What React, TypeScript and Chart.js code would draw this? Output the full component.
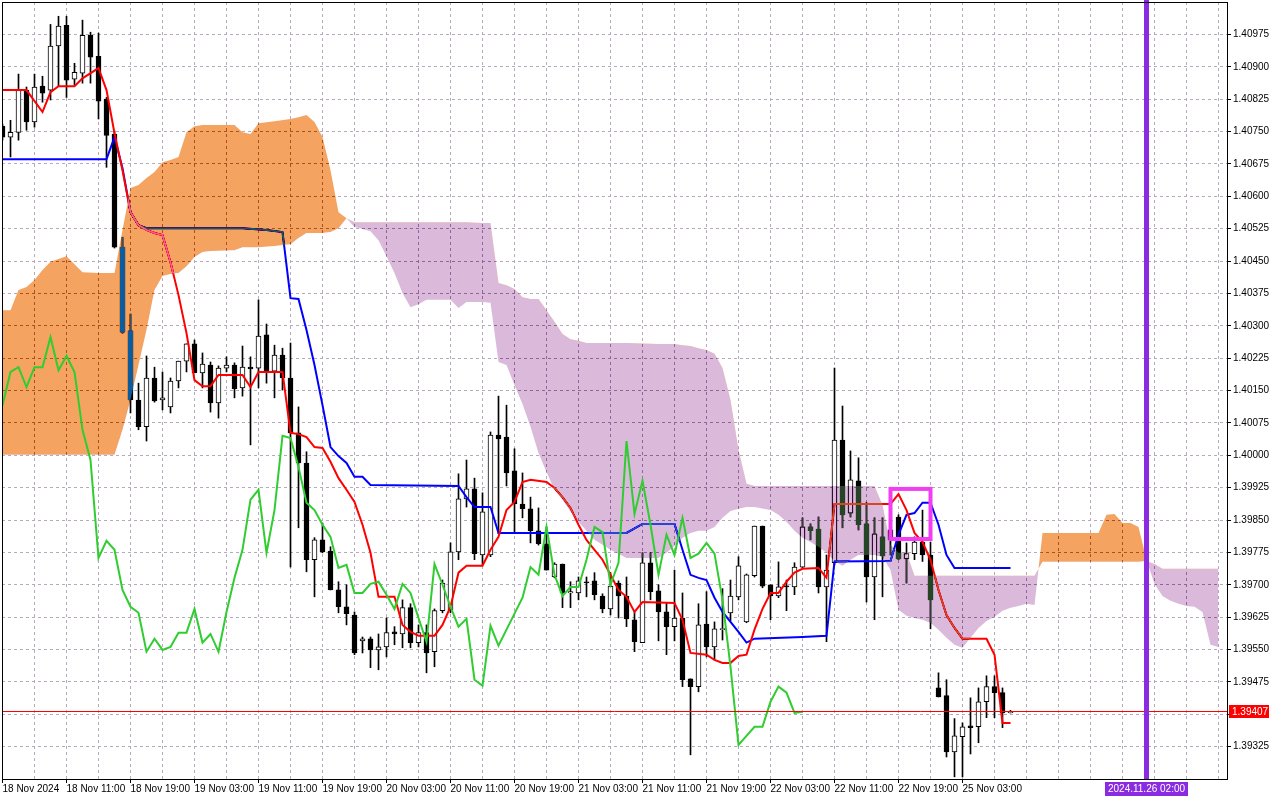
import React, { useEffect, useRef } from "react";
import { Chart, registerables } from "chart.js";

// ---------- DATA (hourly bars, bar 0 = 18 Nov 2024 03:00) ----------
const opens = [
  1.40762, 1.40737, 1.40748, 1.40846, 1.40772, 1.40855, 1.40846, 1.40948, 1.40996, 1.40871,
  1.40885, 1.40973, 1.40924, 1.40825, 1.40744, 1.40482, 1.40288, 1.40128, 1.40066, 1.40179,
  1.40128, 1.40112, 1.40172, 1.40218, 1.40258, 1.40191, 1.40209, 1.40121, 1.40202, 1.40209,
  1.40156, 1.40204, 1.40202, 1.40279, 1.40195, 1.40232, 1.40179, 1.40052, 1.39982, 1.39758,
  1.39804, 1.39778, 1.39688, 1.39649, 1.3963, 1.3957, 1.39575, 1.39549, 1.39556, 1.39591,
  1.39586, 1.39647, 1.39566, 1.39589, 1.39545, 1.3964, 1.39642, 1.39776, 1.39899, 1.39922,
  1.39769, 1.39769, 1.40047, 1.40042, 1.39964, 1.39887, 1.39876, 1.39825, 1.39795, 1.39718,
  1.39748, 1.39681, 1.39681, 1.39707, 1.39709, 1.39674, 1.39644, 1.39704, 1.39674, 1.39619,
  1.39566, 1.39751, 1.39686, 1.39637, 1.39603, 1.39623, 1.39482, 1.39464, 1.39609, 1.39556,
  1.39596, 1.39635, 1.39672, 1.39614, 1.39721, 1.39836, 1.397, 1.39674, 1.39697, 1.39695,
  1.39741, 1.39834, 1.39829, 1.39695, 1.39751, 1.40035, 1.39866, 1.39941, 1.39841, 1.39718,
  1.39811, 1.39827, 1.39857, 1.3976, 1.39772, 1.39799, 1.39769, 1.39461, 1.39443, 1.39313,
  1.39348, 1.39373, 1.39371, 1.39429, 1.39464, 1.3945, 1.39403,
];
const highs = [
  1.40767, 1.40776, 1.40883, 1.40853, 1.40883, 1.40878, 1.40998, 1.41017, 1.41017, 1.40908,
  1.41008, 1.4098, 1.40978, 1.40829, 1.40751, 1.40505, 1.40327, 1.40167, 1.4023, 1.40204,
  1.40193, 1.40179, 1.40218, 1.40258, 1.40267, 1.40237, 1.40216, 1.40207, 1.40228, 1.40214,
  1.40253, 1.40228, 1.4036, 1.40304, 1.40255, 1.40248, 1.4026, 1.40112, 1.40008, 1.39809,
  1.39843, 1.39788, 1.39707, 1.397, 1.39637, 1.39579, 1.39579, 1.39586, 1.39623, 1.39603,
  1.39665, 1.39656, 1.39607, 1.39607, 1.39644, 1.39711, 1.39797, 1.39957, 1.39989, 1.39947,
  1.39913, 1.40054, 1.40137, 1.40116, 1.40015, 1.39959, 1.39903, 1.39878, 1.39834, 1.39751,
  1.39748, 1.39707, 1.39718, 1.39718, 1.39728, 1.39679, 1.39728, 1.39709, 1.39718, 1.39637,
  1.39774, 1.39774, 1.397, 1.39658, 1.39734, 1.39681, 1.39482, 1.39656, 1.39684, 1.39614,
  1.39691, 1.39711, 1.39765, 1.39725, 1.39836, 1.39836, 1.397, 1.39753, 1.39711, 1.39751,
  1.39855, 1.39841, 1.39857, 1.39769, 1.40202, 1.40114, 1.4001, 1.39994, 1.3989, 1.39855,
  1.39855, 1.39862, 1.39862, 1.39797, 1.39811, 1.39873, 1.39799, 1.39496, 1.3948, 1.3939,
  1.3938, 1.39438, 1.39461, 1.39489, 1.39489, 1.39461, 1.39409,
];
const lows = [
  1.4073, 1.40691, 1.4073, 1.40753, 1.4076, 1.40818, 1.40823, 1.40855, 1.40829, 1.40857,
  1.40862, 1.40862, 1.40779, 1.40667, 1.4048, 1.40283, 1.40098, 1.40059, 1.40033, 1.40123,
  1.40105, 1.40098, 1.40156, 1.40193, 1.40191, 1.40156, 1.401, 1.40086, 1.40193, 1.40133,
  1.40137, 1.40024, 1.40156, 1.40167, 1.40133, 1.40151, 1.39741, 1.39832, 1.3973, 1.39672,
  1.39774, 1.39688, 1.39635, 1.39607, 1.39538, 1.39542, 1.39508, 1.39503, 1.39533, 1.39561,
  1.39554, 1.39554, 1.39556, 1.39496, 1.3951, 1.39635, 1.39635, 1.39758, 1.3988, 1.39758,
  1.39746, 1.39765, 1.39818, 1.39929, 1.39822, 1.39855, 1.39797, 1.39792, 1.39734, 1.39716,
  1.39647, 1.39647, 1.39665, 1.39672, 1.39665, 1.39635, 1.3963, 1.39623, 1.39603, 1.39545,
  1.39566, 1.39665, 1.3957, 1.39538, 1.3957, 1.39464, 1.39306, 1.39452, 1.39533, 1.39526,
  1.39572, 1.39616, 1.39665, 1.39612, 1.39718, 1.39693, 1.39619, 1.3967, 1.3964, 1.39677,
  1.39739, 1.39804, 1.39681, 1.39568, 1.39746, 1.39832, 1.39857, 1.39827, 1.3966, 1.39619,
  1.39672, 1.39769, 1.39758, 1.39704, 1.39758, 1.39754, 1.39598, 1.3944, 1.39301, 1.39255,
  1.39255, 1.39308, 1.39334, 1.39392, 1.39392, 1.39369, 1.39403,
];
const closes = [
  1.40737, 1.40748, 1.40846, 1.40772, 1.40853, 1.40839, 1.40948, 1.40994, 1.40869, 1.40887,
  1.40973, 1.40922, 1.4082, 1.40741, 1.40482, 1.40285, 1.40128, 1.40066, 1.40179, 1.40126,
  1.40133, 1.40172, 1.40218, 1.40258, 1.40191, 1.40211, 1.40121, 1.40202, 1.40209, 1.40154,
  1.40204, 1.402, 1.40276, 1.40195, 1.40232, 1.40179, 1.40052, 1.39982, 1.39758, 1.39804,
  1.39776, 1.39688, 1.39649, 1.39633, 1.39542, 1.39575, 1.39549, 1.39556, 1.39589, 1.39586,
  1.39647, 1.39566, 1.39589, 1.39542, 1.3964, 1.39704, 1.39776, 1.39899, 1.39922, 1.39772,
  1.39869, 1.40047, 1.40038, 1.39959, 1.39887, 1.39876, 1.39825, 1.39795, 1.39734, 1.39748,
  1.39681, 1.39684, 1.39709, 1.39704, 1.39677, 1.39644, 1.39697, 1.39674, 1.39621, 1.39568,
  1.39751, 1.39684, 1.39637, 1.39603, 1.39623, 1.3948, 1.39464, 1.39607, 1.39556, 1.39598,
  1.39598, 1.39674, 1.39744, 1.39723, 1.39836, 1.39697, 1.39674, 1.39695, 1.39695, 1.39741,
  1.39834, 1.39825, 1.39695, 1.39734, 1.40035, 1.39862, 1.39943, 1.39839, 1.39718, 1.39818,
  1.39767, 1.39804, 1.3976, 1.39772, 1.39799, 1.39769, 1.39665, 1.3944, 1.39313, 1.3935,
  1.39371, 1.39369, 1.39429, 1.39464, 1.3945, 1.39403, 1.39407,
];

// Tenkan-sen (red)
const tenkanBars = [
  0, 3, 5, 6, 7, 9, 10, 12, 13, 14, 15, 16, 17, 18, 19, 20, 21, 22, 23, 24,
  25, 26, 27, 30, 31, 32, 35, 36, 37, 38, 39, 40, 41, 42, 43, 44, 45, 46, 47, 49,
  50, 51, 52, 54, 55, 56, 57, 58, 60, 61, 62, 63, 64, 65, 66, 68, 69, 70, 71, 72,
  73, 74, 75, 76, 77, 78, 79, 80, 84, 85, 86, 88, 89, 90, 91, 92, 93, 94, 95, 96,
  97, 98, 99, 100, 102, 103, 104, 111, 112, 113, 114, 115, 116, 117, 118, 119, 120, 123, 124, 125,
  126,
];
const tenkanValues = [
  1.40846, 1.40846, 1.40795, 1.40841, 1.40855, 1.40855, 1.40873, 1.40897, 1.40846, 1.40746,
  1.4066, 1.40563, 1.40533, 1.40522, 1.40515, 1.4051, 1.40447, 1.40371, 1.40283, 1.40174,
  1.4016, 1.4016, 1.40186, 1.40186, 1.40158, 1.40193, 1.40193, 1.40052, 1.40049, 1.40042,
  1.40019, 1.40017, 1.39985, 1.39947, 1.3992, 1.39892, 1.39839, 1.39774, 1.39672, 1.39672,
  1.39607, 1.39591, 1.39582, 1.39582, 1.39607, 1.39649, 1.39728, 1.39744, 1.39744, 1.39781,
  1.39811, 1.39873, 1.39892, 1.39938, 1.39943, 1.39938, 1.39924, 1.39903, 1.39878, 1.39839,
  1.39804, 1.39781, 1.39758, 1.39723, 1.39688, 1.39672, 1.39637, 1.3966, 1.39658, 1.39619,
  1.39542, 1.39538, 1.39526, 1.39519, 1.39519, 1.39535, 1.39538, 1.39596, 1.39644, 1.39681,
  1.39681, 1.39707, 1.39728, 1.39737, 1.39739, 1.39716, 1.39887, 1.39887, 1.3991, 1.39873,
  1.3982, 1.39799, 1.39758, 1.39688, 1.3963, 1.396, 1.39575, 1.39575, 1.39538, 1.3938,
  1.3938,
];

// Kijun-sen (blue)
const kijunBars = [
  0, 13, 14, 15, 16, 17, 18, 30, 33, 35, 36, 37, 38, 39, 40, 41, 42, 43, 44, 45,
  46, 57, 58, 59, 61, 62, 78, 80, 84, 85, 86, 87, 88, 89, 90, 91, 92, 93, 94, 100,
  103, 104, 111, 112, 113, 114, 115, 116, 117, 118, 119, 126,
];
const kijunValues = [
  1.40686, 1.40686, 1.40737, 1.40665, 1.40563, 1.40533, 1.40526, 1.40526, 1.40522, 1.40517,
  1.40364, 1.40362, 1.4029, 1.40209, 1.40116, 1.40019, 1.39998, 1.39982, 1.3995, 1.3995,
  1.39931, 1.39929, 1.39903, 1.3988, 1.3988, 1.3982, 1.3982, 1.39841, 1.39841, 1.39781,
  1.39723, 1.39716, 1.39711, 1.3967, 1.39637, 1.39614, 1.39591, 1.39566, 1.39575, 1.39579,
  1.39582, 1.39754, 1.39755, 1.39816, 1.39862, 1.39866, 1.3989, 1.3989, 1.39839, 1.39769,
  1.39739, 1.39739,
];

// Chikou span (green), bars 0..100
const chikouValues = [
  1.40116, 1.40193, 1.40204, 1.40158, 1.40204, 1.40204, 1.40274, 1.40197, 1.4023, 1.40193,
  1.40059, 1.39989, 1.39762, 1.39802, 1.39781, 1.39688, 1.39649, 1.39635, 1.39545, 1.39575,
  1.39549, 1.39556, 1.39589, 1.39589, 1.39644, 1.39566, 1.39586, 1.39545, 1.39637, 1.39716,
  1.39781, 1.39897, 1.3992, 1.39774, 1.39873, 1.40045, 1.4004, 1.39973, 1.3989, 1.39873,
  1.39839, 1.39811, 1.39739, 1.39746, 1.39681, 1.39681, 1.39702, 1.39707, 1.39677, 1.39644,
  1.39702, 1.39681, 1.39623, 1.39568, 1.39748, 1.397, 1.39649, 1.39603, 1.39621, 1.3948,
  1.39466, 1.39605, 1.39559, 1.39596, 1.39633, 1.3967, 1.39741, 1.39723, 1.39834, 1.39723,
  1.39674, 1.39695, 1.39695, 1.39758, 1.39834, 1.39822, 1.397, 1.39751, 1.40033, 1.39864,
  1.39941, 1.39839, 1.39723, 1.39816, 1.39769, 1.39855, 1.39762, 1.39772, 1.39797, 1.39772,
  1.39665, 1.3951, 1.39329, 1.3935, 1.39371, 1.39371, 1.39429, 1.39464, 1.3945, 1.39403,
  1.39406,
];

// Kumo (cloud): Senkou Span A and B at the same bars
const cloudBars = [
  0, 1, 2, 3, 4, 5, 6, 8, 10, 12,
  14, 15, 16, 17, 18, 19, 20, 21, 22, 23,
  24, 25, 26, 29, 30, 31, 32, 34, 36, 37,
  38, 39, 40, 41, 42, 43, 44, 45, 46, 47,
  48, 49, 50, 51, 52, 53, 56, 57, 58, 60,
  61, 62, 63, 64, 65, 66, 67, 68, 69, 70,
  71, 72, 73, 74, 76, 78, 82, 83, 84, 85,
  86, 87, 88, 89, 90, 91, 92, 93, 94, 96,
  97, 98, 99, 100, 101, 102, 103, 104, 105, 106,
  107, 109, 110, 111, 112, 113, 114, 115, 116, 117,
  118, 119, 120, 121, 122, 123, 124, 125, 126, 127,
  128, 129, 130, 137, 138, 139, 140, 141, 142, 143,
  144, 145, 146, 147, 148, 149, 150, 151, 152,
];
const spanA = [
  1.40336, 1.40336, 1.40383, 1.4039, 1.40406, 1.40429, 1.40448, 1.40461, 1.40424, 1.40422,
  1.40422, 1.40522, 1.40619, 1.40626, 1.40642, 1.40656, 1.40679, 1.40684, 1.40691, 1.40748,
  1.40762, 1.40765, 1.40765, 1.40765, 1.40748, 1.40744, 1.40769, 1.40774, 1.40779, 1.40783,
  1.40788, 1.40772, 1.40737, 1.4066, 1.40563, 1.40549, 1.40529, 1.40524, 1.40519, 1.40498,
  1.40461, 1.40422, 1.40376, 1.40343, 1.4035, 1.4036, 1.4036, 1.40341, 1.40355, 1.40355,
  1.40353, 1.40216, 1.40209, 1.40163, 1.40119, 1.40066, 1.40005, 1.39961, 1.3992, 1.39897,
  1.39869, 1.39846, 1.39825, 1.39804, 1.39781, 1.39762, 1.39762, 1.39774, 1.3979, 1.39809,
  1.3982, 1.39825, 1.39825, 1.39834, 1.39855, 1.39871, 1.39876, 1.3988, 1.3988, 1.39873,
  1.39862, 1.39846, 1.39825, 1.39809, 1.39799, 1.39788, 1.39774, 1.39755, 1.39744, 1.39758,
  1.39769, 1.39769, 1.39765, 1.39734, 1.39642, 1.39628, 1.39623, 1.39619, 1.39612, 1.39596,
  1.39577, 1.39561, 1.39554, 1.39577, 1.396, 1.39616, 1.39626, 1.3964, 1.39647, 1.39651,
  1.39656, 1.39653, 1.3982, 1.3982, 1.39862, 1.39864, 1.39843, 1.39843, 1.39834, 1.39758,
  1.39702, 1.39674, 1.39663, 1.39656, 1.39651, 1.39649, 1.39637, 1.39561, 1.39556,
];
const spanB = [
  1.40001, 1.40001, 1.40001, 1.40001, 1.40001, 1.40001, 1.40001, 1.40001, 1.40001, 1.40001,
  1.40001, 1.40059, 1.40128, 1.40209, 1.4029, 1.40383, 1.40415, 1.4042, 1.40422, 1.40438,
  1.40459, 1.40471, 1.40473, 1.40475, 1.40482, 1.40482, 1.40482, 1.40485, 1.40489, 1.40503,
  1.40515, 1.40515, 1.40515, 1.40517, 1.40526, 1.40549, 1.4054, 1.4054, 1.4054, 1.4054,
  1.4054, 1.4054, 1.4054, 1.4054, 1.4054, 1.4054, 1.4054, 1.4054, 1.4054, 1.40538,
  1.40538, 1.40399, 1.40394, 1.40385, 1.40366, 1.40362, 1.40362, 1.40336, 1.40309, 1.40281,
  1.40269, 1.40265, 1.4026, 1.4026, 1.4026, 1.4026, 1.40258, 1.40258, 1.40258, 1.40255,
  1.40253, 1.40248, 1.40244, 1.40235, 1.40202, 1.40128, 1.40012, 1.39934, 1.39929, 1.39929,
  1.39929, 1.39929, 1.39929, 1.39929, 1.39929, 1.39929, 1.39929, 1.39929, 1.39929, 1.39929,
  1.39929, 1.39929, 1.39885, 1.39792, 1.39774, 1.39774, 1.39721, 1.39721, 1.39721, 1.39721,
  1.39721, 1.39721, 1.39721, 1.39721, 1.39721, 1.39721, 1.39721, 1.39721, 1.39721, 1.39721,
  1.39721, 1.39721, 1.39753, 1.39753, 1.39753, 1.39753, 1.39753, 1.39753, 1.39753, 1.39755,
  1.39748, 1.39737, 1.39737, 1.39737, 1.39737, 1.39737, 1.39737, 1.39737, 1.39737,
];

// Axis labels
const timeLabels = [
  "18 Nov 2024", "18 Nov 11:00", "18 Nov 19:00", "19 Nov 03:00", "19 Nov 11:00", "19 Nov 19:00",
  "20 Nov 03:00", "20 Nov 11:00", "20 Nov 19:00", "21 Nov 03:00", "21 Nov 11:00", "21 Nov 19:00",
  "22 Nov 03:00", "22 Nov 11:00", "22 Nov 19:00", "25 Nov 03:00",
];
const priceTicks = [
  1.39325, 1.394, 1.39475, 1.3955, 1.39625, 1.397, 1.39775, 1.3985, 1.39925, 1.4,
  1.40075, 1.4015, 1.40225, 1.403, 1.40375, 1.4045, 1.40525, 1.406, 1.40675, 1.4075,
  1.40825, 1.409, 1.40975,
];
const lastPrice = 1.39407;
const markerBar = 143;
const markerLabel = "2024.11.26 02:00";
const boxBars = [111, 116];
const boxPrices = [1.39922, 1.39806];

// ---------- rendering ----------
const FONT = "'Liberation Sans', Arial, sans-serif";
const GRID = "rgb(184,170,190)";
const LABEL_STEP = 8;
const GRID_STEP = 4;

// Cloud is blended like MT4 (difference with inverted colour)
const cloudBlend: any = {
  id: "cloudBlend",
  beforeDraw(chart: any) {
    const c = chart.ctx;
    c.save();
    c.fillStyle = "#ffffff";
    c.fillRect(0, 0, chart.width, chart.height);
    c.restore();
  },
  beforeDatasetDraw(chart: any, args: any) {
    const ds: any = chart.data.datasets[args.index];
    if (ds && ds.blend) {
      chart.ctx.save();
      chart.ctx.globalCompositeOperation = "difference";
    }
  },
  afterDatasetDraw(chart: any, args: any) {
    const ds: any = chart.data.datasets[args.index];
    if (ds && ds.blend) chart.ctx.restore();
  },
};
Chart.register(cloudBlend);
Chart.register(...registerables);

const overlay: any = {
  id: "overlay",
  afterDraw(chart: any) {
    const { ctx, chartArea: a, scales } = chart;
    const xs = scales.x;
    const ys = scales.y;
    ctx.save();
    // bid line
    const py = Math.round(ys.getPixelForValue(lastPrice)) + 0.5;
    ctx.strokeStyle = "#ff0000";
    ctx.lineWidth = 1;
    ctx.beginPath();
    ctx.moveTo(a.left, py);
    ctx.lineTo(a.right, py);
    ctx.stroke();
    // rectangle object
    const bx1 = xs.getPixelForValue(boxBars[0]);
    const bx2 = xs.getPixelForValue(boxBars[1]);
    const by1 = ys.getPixelForValue(boxPrices[0]);
    const by2 = ys.getPixelForValue(boxPrices[1]);
    ctx.strokeStyle = "#f23ef2";
    ctx.lineWidth = 4;
    ctx.strokeRect(bx1, by1, bx2 - bx1, by2 - by1);
    // vertical marker line
    const mx = xs.getPixelForValue(markerBar);
    ctx.fillStyle = "#8a2be2";
    ctx.fillRect(mx - 2.5, 0, 5, a.bottom);
    // frame
    ctx.strokeStyle = "#000";
    ctx.lineWidth = 1;
    ctx.strokeRect(a.left + 0.5, a.top + 0.5, a.right - a.left, a.bottom - a.top);
    // price label
    ctx.font = `10px ${FONT}`;
    ctx.textBaseline = "middle";
    ctx.textAlign = "left";
    const pt = lastPrice.toFixed(5);
    ctx.fillStyle = "#ff0000";
    ctx.fillRect(a.right + 2, py - 6.5, 40, 13);
    ctx.fillStyle = "#ffffff";
    ctx.fillText(pt, a.right + 5, py + 0.5);
    // date label
    const tw = ctx.measureText(markerLabel).width;
    ctx.fillStyle = "#8a2be2";
    ctx.fillRect(Math.round(mx - tw / 2 - 3), a.bottom + 3, Math.round(tw + 6), 14);
    ctx.fillStyle = "#ffffff";
    ctx.textAlign = "center";
    ctx.fillText(markerLabel, mx, a.bottom + 10.5);
    ctx.restore();
  },
};

export default function App() {
  const ref = useRef<HTMLCanvasElement | null>(null);

  useEffect(() => {
    const canvas = ref.current;
    if (!canvas) return;
    const idx = opens.map((_, i) => i);
    const gridBars: number[] = [];
    for (let b = 0; b <= 152; b += GRID_STEP) gridBars.push(b);

    const chart = new Chart(canvas, {
      type: "bar",
      data: {
        datasets: [
          {
            type: "bar",
            label: "wicks",
            data: idx.map((i) => ({ x: i, y: [lows[i], highs[i]] })),
            backgroundColor: "#000",
            borderWidth: 0,
            barThickness: 1,
            grouped: false,
            borderSkipped: false,
            order: 20,
          } as any,
          {
            type: "bar",
            label: "bodies",
            data: idx.map((i) => ({ x: i, y: [opens[i], closes[i]] })),
            backgroundColor: (c: any) => (closes[c.dataIndex] >= opens[c.dataIndex] ? "#ffffff" : "#000000"),
            borderColor: "#000",
            borderWidth: 1,
            borderSkipped: false,
            barThickness: 5,
            grouped: false,
            minBarLength: 1,
            order: 19,
          } as any,
          {
            type: "line",
            label: "Kijun-sen",
            data: kijunBars.map((b, k) => ({ x: b, y: kijunValues[k] })),
            borderColor: "#0000ff",
            borderWidth: 2,
            pointRadius: 0,
            tension: 0,
            fill: false,
            order: 12,
          } as any,
          {
            type: "line",
            label: "Tenkan-sen",
            data: tenkanBars.map((b, k) => ({ x: b, y: tenkanValues[k] })),
            borderColor: "#ff0000",
            borderWidth: 2,
            pointRadius: 0,
            tension: 0,
            fill: false,
            order: 11,
          } as any,
          {
            type: "line",
            label: "Senkou Span A",
            blend: true,
            data: cloudBars.map((b, k) => ({ x: b, y: spanA[k] })),
            borderColor: "rgba(0,0,0,0)",
            borderWidth: 0,
            pointRadius: 0,
            tension: 0,
            fill: { target: "+1", above: "rgb(11,91,159)", below: "rgb(37,70,37)" },
            order: 3,
          } as any,
          {
            type: "line",
            label: "Senkou Span B",
            data: cloudBars.map((b, k) => ({ x: b, y: spanB[k] })),
            borderColor: "rgba(0,0,0,0)",
            borderWidth: 0,
            pointRadius: 0,
            tension: 0,
            fill: false,
            order: 4,
          } as any,
          {
            type: "line",
            label: "Chikou Span",
            data: chikouValues.map((v, i) => ({ x: i, y: v })),
            borderColor: "#2fcd2f",
            borderWidth: 2,
            pointRadius: 0,
            tension: 0,
            fill: false,
            order: 1,
          } as any,
        ],
      },
      options: {
        responsive: false,
        animation: false,
        events: [],
        layout: { padding: { left: 2, top: 2, right: 0, bottom: 0 } },
        plugins: { legend: { display: false }, tooltip: { enabled: false } },
        scales: {
          x: {
            type: "linear",
            bounds: "data",
            min: -0.0625,
            max: 153.0625,
            offset: false,
            afterBuildTicks: (s: any) => {
              s.ticks = gridBars.map((v) => ({ value: v }));
            },
            afterFit: (s: any) => {
              s.height = 21;
              s.paddingLeft = 0;
              s.paddingRight = 0;
            },
            ticks: {
              autoSkip: false,
              maxRotation: 0,
              minRotation: 0,
              align: "start",
              padding: 0,
              color: "#000",
              font: { family: FONT, size: 10 },
              callback: (v: any) => {
                const n = Number(v);
                if (n % LABEL_STEP !== 0) return "";
                const k = n / LABEL_STEP;
                return k < timeLabels.length ? timeLabels[k] : "";
              },
            },
            grid: {
              offset: false,
              color: GRID,
              lineWidth: 1,
              drawTicks: true,
              tickLength: 4,
              tickWidth: 1,
              tickColor: (c: any) =>
                c.tick && c.tick.value % LABEL_STEP === 0 && c.tick.value / LABEL_STEP < timeLabels.length
                  ? "#000"
                  : "rgba(0,0,0,0)",
            },
            border: { display: true, color: "#000", width: 1, dash: [3, 3] },
          } as any,
          y: {
            type: "linear",
            position: "right",
            bounds: "data",
            min: 1.3925,
            max: 1.4105,
            afterBuildTicks: (s: any) => {
              s.ticks = priceTicks.map((v) => ({ value: v }));
            },
            afterFit: (s: any) => {
              s.width = 53;
              s.paddingTop = 0;
              s.paddingBottom = 0;
            },
            ticks: {
              padding: 2,
              color: "#000",
              font: { family: FONT, size: 10 },
              callback: (v: any) => Number(v).toFixed(5),
            },
            grid: { color: GRID, lineWidth: 1, drawTicks: true, tickLength: 4, tickColor: "#000" },
            border: { display: true, color: "#000", width: 1, dash: [3, 3] },
          } as any,
        },
      } as any,
      plugins: [overlay],
    });
    return () => chart.destroy();
  }, []);

  return (
    <div style={{ position: "fixed", left: 0, top: 0, width: 1280, height: 800, background: "#fff" }}>
      <canvas ref={ref} width={1280} height={800} style={{ display: "block", width: 1280, height: 800 }} />
    </div>
  );
}
